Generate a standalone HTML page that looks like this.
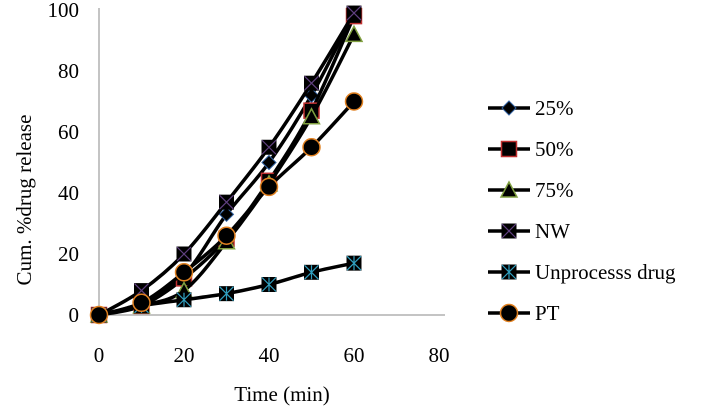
<!DOCTYPE html>
<html><head><meta charset="utf-8"><style>
body{margin:0;background:#fff}
svg text{font-family:"Liberation Serif",serif;fill:#000}
</style></head><body>
<svg id="c" width="702" height="408" viewBox="0 0 702 408">
<line x1="99" y1="8" x2="99" y2="315" stroke="#888" stroke-width="1"/>
<line x1="99" y1="315" x2="445" y2="315" stroke="#888" stroke-width="1"/>
<text x="31" y="200" font-size="21" text-anchor="middle" transform="rotate(-90 31 200)">Cum. %drug release</text>
<text x="282" y="401" font-size="21" text-anchor="middle">Time (min)</text>
<g id="ticks"></g><g id="series"></g><g id="legend"></g>
</svg>
<script>
const times=[0,10,20,30,40,50,60];
const xTicks=[0,20,40,60,80];
const yTicks=[0,20,40,60,80,100];
const names=["25%","50%","75%","NW","Unprocesss drug","PT"];
const s25=[0,4,13,33,50,72,99];
const s50=[0,3,12,25,44,67,98];
const s75=[0,3,8,24,43,65,92];
const sNW=[0,8,20,37,55,76,99];
const sUn=[0,3,5,7,10,14,17];
const sPT=[0,4,14,26,42,55,70];
const data=[s25,s50,s75,sNW,sUn,sPT];
const X=v=>99+v*85/20, Y=v=>315-v*3.05;
const NS="http://www.w3.org/2000/svg";
function mk(t,a,p){const e=document.createElementNS(NS,t);for(const k in a)e.setAttribute(k,a[k]);p.appendChild(e);return e;}
const tg=document.getElementById('ticks');
xTicks.forEach(v=>{const t=mk('text',{x:X(v),y:362,'font-size':21,'text-anchor':'middle'},tg);t.textContent=v;

});
yTicks.forEach(v=>{const t=mk('text',{x:79,y:Y(v)+7,'font-size':21,'text-anchor':'end'},tg);t.textContent=v;

});
function smooth(pts){let d=`M${pts[0][0]},${pts[0][1]}`;for(let i=0;i<pts.length-1;i++){const p0=pts[Math.max(i-1,0)],p1=pts[i],p2=pts[i+1],p3=pts[Math.min(i+2,pts.length-1)];
const c1=[p1[0]+(p2[0]-p0[0])/6,p1[1]+(p2[1]-p0[1])/6],c2=[p2[0]-(p3[0]-p1[0])/6,p2[1]-(p3[1]-p1[1])/6];d+=`C${c1},${c2},${p2}`;}return d;}
function marker(k,x,y,g){
 if(k==0)return mk('path',{d:`M${x},${y-7}L${x+7},${y}L${x},${y+7}L${x-7},${y}Z`,fill:'#000',stroke:'#3060a0','stroke-width':1},g);
 if(k==1)return mk('rect',{x:x-7.5,y:y-7.5,width:15,height:15,fill:'#000',stroke:'#c03030','stroke-width':1.5},g);
 if(k==2)return mk('path',{d:`M${x},${y-8}L${x+8},${y+7}L${x-8},${y+7}Z`,fill:'#000',stroke:'#80a040','stroke-width':1.5},g);
 if(k==3){const r=mk('g',{},g);mk('rect',{x:x-7.5,y:y-7.5,width:15,height:15,fill:'#000'},r);mk('path',{d:`M${x-7},${y-7}L${x+7},${y+7}M${x+7},${y-7}L${x-7},${y+7}`,stroke:'#604080','stroke-width':1.2},r);return r;}
 if(k==4){const r=mk('g',{},g);mk('rect',{x:x-7.5,y:y-7.5,width:15,height:15,fill:'#000'},r);mk('path',{d:`M${x-7},${y-7}L${x+7},${y+7}M${x+7},${y-7}L${x-7},${y+7}M${x},${y-7}L${x},${y+7}`,stroke:'#30a0c0','stroke-width':1.2},r);return r;}
 return mk('circle',{cx:x,cy:y,r:8.5,fill:'#000',stroke:'#e08020','stroke-width':1.5},g);}
const sg=document.getElementById('series'),lg=document.getElementById('legend');
data.forEach((s,k)=>{const g=mk('g',{},sg);


mk('path',{d:smooth(s.map((v,i)=>[X(times[i]),Y(v)])),fill:'none',stroke:'#000','stroke-width':3.5},g);
s.forEach((v,i)=>{const m=marker(k,X(times[i]),Y(v),g);

});
const ly=108+k*41;const e=mk('g',{},lg);


mk('line',{x1:488,y1:ly,x2:530,y2:ly,stroke:'#000','stroke-width':3.5},e);marker(k,509,ly,e);
const t=mk('text',{x:535,y:ly+7,'font-size':21},e);t.textContent=names[k];});
</script>
</body></html>
